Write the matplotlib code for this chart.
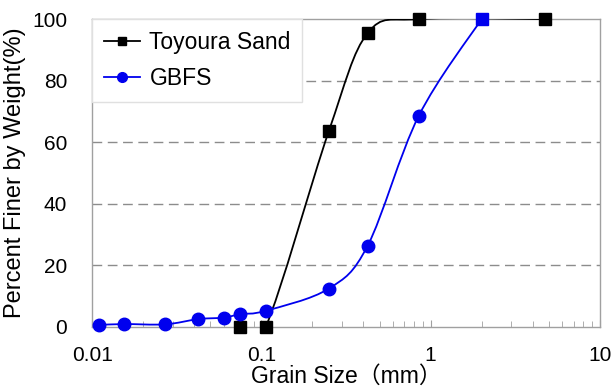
import matplotlib.pyplot as plt
import numpy as np
from matplotlib.path import Path
from matplotlib.patches import PathPatch
from matplotlib.lines import Line2D

plt.rcParams['font.family'] = ['Liberation Sans', 'Noto Sans CJK JP', 'DejaVu Sans']

# grain size (mm) and percent finer
toyoura_size = [0.075, 0.106, 0.25, 0.425, 0.85, 4.75]
toyoura_pct = [0.0, 0.0, 63.5, 95.5, 100.0, 100.0]
gbfs_size = [0.011, 0.0155, 0.027, 0.0424, 0.060, 0.075, 0.106, 0.25, 0.425, 0.85, 2.0]
gbfs_pct = [0.6, 0.9, 0.8, 2.5, 3.0, 4.1, 5.2, 12.4, 26.4, 68.5, 100.0]


def smooth_path(xs, ys):
    # Excel-like smoothed line: Catmull-Rom segments as cubic Beziers in log-x space
    lx = np.log10(xs)
    y = np.asarray(ys, float)
    n = len(lx)
    verts = [(xs[0], y[0])]
    codes = [Path.MOVETO]
    for i in range(n - 1):
        i0 = max(i - 1, 0)
        i3 = min(i + 2, n - 1)
        c1x = lx[i] + (lx[i + 1] - lx[i0]) / 6
        c1y = y[i] + (y[i + 1] - y[i0]) / 6
        c2x = lx[i + 1] - (lx[i3] - lx[i]) / 6
        c2y = y[i + 1] - (y[i3] - y[i]) / 6
        verts += [(10 ** c1x, c1y), (10 ** c2x, c2y), (xs[i + 1], y[i + 1])]
        codes += [Path.CURVE4] * 3
    return Path(verts, codes)


fig = plt.figure(figsize=(6.14, 3.9), dpi=100)
ax = fig.add_axes([0.150, 0.162, 0.827, 0.789])
ax.set_xscale('log')
ax.set_xlim(0.01, 10)
ax.set_ylim(0, 100)

for y in [20, 40, 60, 80]:
    ax.axhline(y, color='#8c8c8c', lw=1, ls=(0, (7, 4)), zorder=1)

ax.add_patch(PathPatch(smooth_path(toyoura_size, toyoura_pct), fc='none', ec='black', lw=1.3, zorder=3))
ax.add_patch(PathPatch(smooth_path(gbfs_size, gbfs_pct), fc='none', ec='#0000ee', lw=1.3, zorder=3))
ax.plot(toyoura_size, toyoura_pct, 's', color='black', ms=8, zorder=4, clip_on=False)
ax.plot(gbfs_size[:-1], gbfs_pct[:-1], 'o', color='#0000ee', ms=9, zorder=4, clip_on=False)
ax.plot(gbfs_size[-1:], gbfs_pct[-1:], 's', color='#0000ee', ms=8, zorder=5, clip_on=False)

for s in ax.spines.values():
    s.set_color('#a0a0a0')
    s.set_linewidth(1)

ax.set_yticks([0, 20, 40, 60, 80, 100])
ax.set_xticks([0.01, 0.1, 1, 10])
ax.set_xticklabels(['0.01', '0.1', '1', '10'])
ax.tick_params(axis='y', length=0, pad=18, labelsize=15)
ax.tick_params(axis='x', which='major', direction='in', length=5, color='#a0a0a0', pad=14, labelsize=15)
ax.tick_params(axis='x', which='minor', direction='in', length=4, color='#a0a0a0')

ax.set_ylabel('Percent Finer by Weight(%)', fontsize=17, labelpad=4)
ax.set_xlabel('Grain Size（mm）', fontsize=16.5, labelpad=0)

handles = [
    Line2D([], [], color='black', marker='s', ms=6, lw=1.3),
    Line2D([], [], color='#0000ee', marker='o', ms=7, lw=1.3),
]
leg = ax.legend(handles, ['Toyoura Sand', 'GBFS'], loc='upper left', fontsize=16.5,
                handlelength=1.6, handletextpad=0.4, borderaxespad=0.0,
                fancybox=False, framealpha=1, edgecolor='#e0e0e0',
                borderpad=0.5, labelspacing=0.6)
leg.set_zorder(6)

fig.savefig('out.png', dpi=100)
